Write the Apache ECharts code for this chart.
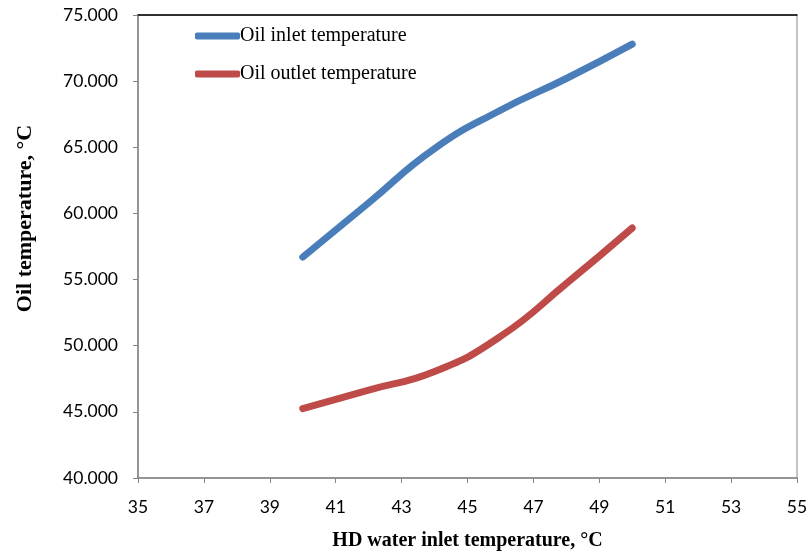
<!DOCTYPE html>
<html><head><meta charset="utf-8">
<script src="https://cdn.jsdelivr.net/npm/echarts@6/dist/echarts.min.js"></script>
<style>html,body{margin:0;padding:0;background:#fff}#c{width:809px;height:553px}</style>
</head><body><div id="c"></div>
<script>
const xValues = [40, 42, 44, 46, 48, 50];
const oilInlet = [56.7, 60.8, 64.9, 67.8, 70.2, 72.8];
const oilOutlet = [45.25, 46.65, 48.05, 50.7, 54.7, 58.9];
const seriesNames = ['Oil inlet temperature', 'Oil outlet temperature'];
const xTitle = 'HD water inlet temperature, \u00B0C';
const yTitle = 'Oil temperature, \u00B0C';

const chart = echarts.init(document.getElementById('c'), null, {renderer: 'canvas'});
const pair = (xs, ys) => xs.map((x, i) => [x, ys[i]]);
const tickFont = {fontFamily: 'Lato', fontSize: 17.5, color: '#000'};
chart.setOption({
  animation: false,
  backgroundColor: '#fff',
  grid: {left: 138, top: 15, right: 12, bottom: 75, show: true, borderColor: '#868686', borderWidth: 1,
         containLabel: false, outerBoundsMode: 'none'},
  legend: {
    orient: 'vertical', left: 190, top: 21, itemGap: 18,
    itemWidth: 45, itemHeight: 7, icon: 'roundRect',
    textStyle: {fontFamily: 'Liberation Serif', fontSize: 20, color: '#000', padding: [0, 0, 0, -5]},
    data: seriesNames
  },
  xAxis: [{
    type: 'value', min: 35, max: 55, interval: 2,
    name: xTitle, nameLocation: 'middle', nameGap: 53,
    nameTextStyle: {fontFamily: 'Liberation Serif', fontWeight: 'bold', fontSize: 20, color: '#000'},
    axisLine: {show: true, lineStyle: {color: '#868686', width: 1.5}},
    axisTick: {show: true, length: 5, lineStyle: {color: '#868686'}},
    axisLabel: Object.assign({margin: 20}, tickFont),
    splitLine: {show: false}
  }, {
    type: 'value', position: 'top', min: 35, max: 55,
    axisLine: {show: true, lineStyle: {color: '#000', width: 1.5}},
    axisTick: {show: false}, axisLabel: {show: false}, splitLine: {show: false}
  }],
  yAxis: {
    type: 'value', min: 40, max: 75, interval: 5,
    name: yTitle, nameLocation: 'middle', nameGap: 102,
    nameTextStyle: {fontFamily: 'Liberation Serif', fontWeight: 'bold', fontSize: 22, color: '#000',
                    padding: [0, 0, 0, 56]},
    axisLine: {show: true, lineStyle: {color: '#868686', width: 1.5}},
    axisTick: {show: true, inside: false, length: 5, lineStyle: {color: '#868686'}},
    axisLabel: Object.assign({margin: 20, formatter: v => v.toFixed(3)}, tickFont),
    splitLine: {show: false}
  },
  series: [
    {name: seriesNames[0], type: 'line', smooth: 0.5, showSymbol: false, symbol: 'none',
     data: pair(xValues, oilInlet), itemStyle: {color: '#4A7EBB'},
     lineStyle: {color: '#4A7EBB', width: 7, cap: 'round'}},
    {name: seriesNames[1], type: 'line', smooth: 0.5, showSymbol: false, symbol: 'none',
     data: pair(xValues, oilOutlet), itemStyle: {color: '#BE4B48'},
     lineStyle: {color: '#BE4B48', width: 7, cap: 'round'}}
  ]
});
</script></body></html>
